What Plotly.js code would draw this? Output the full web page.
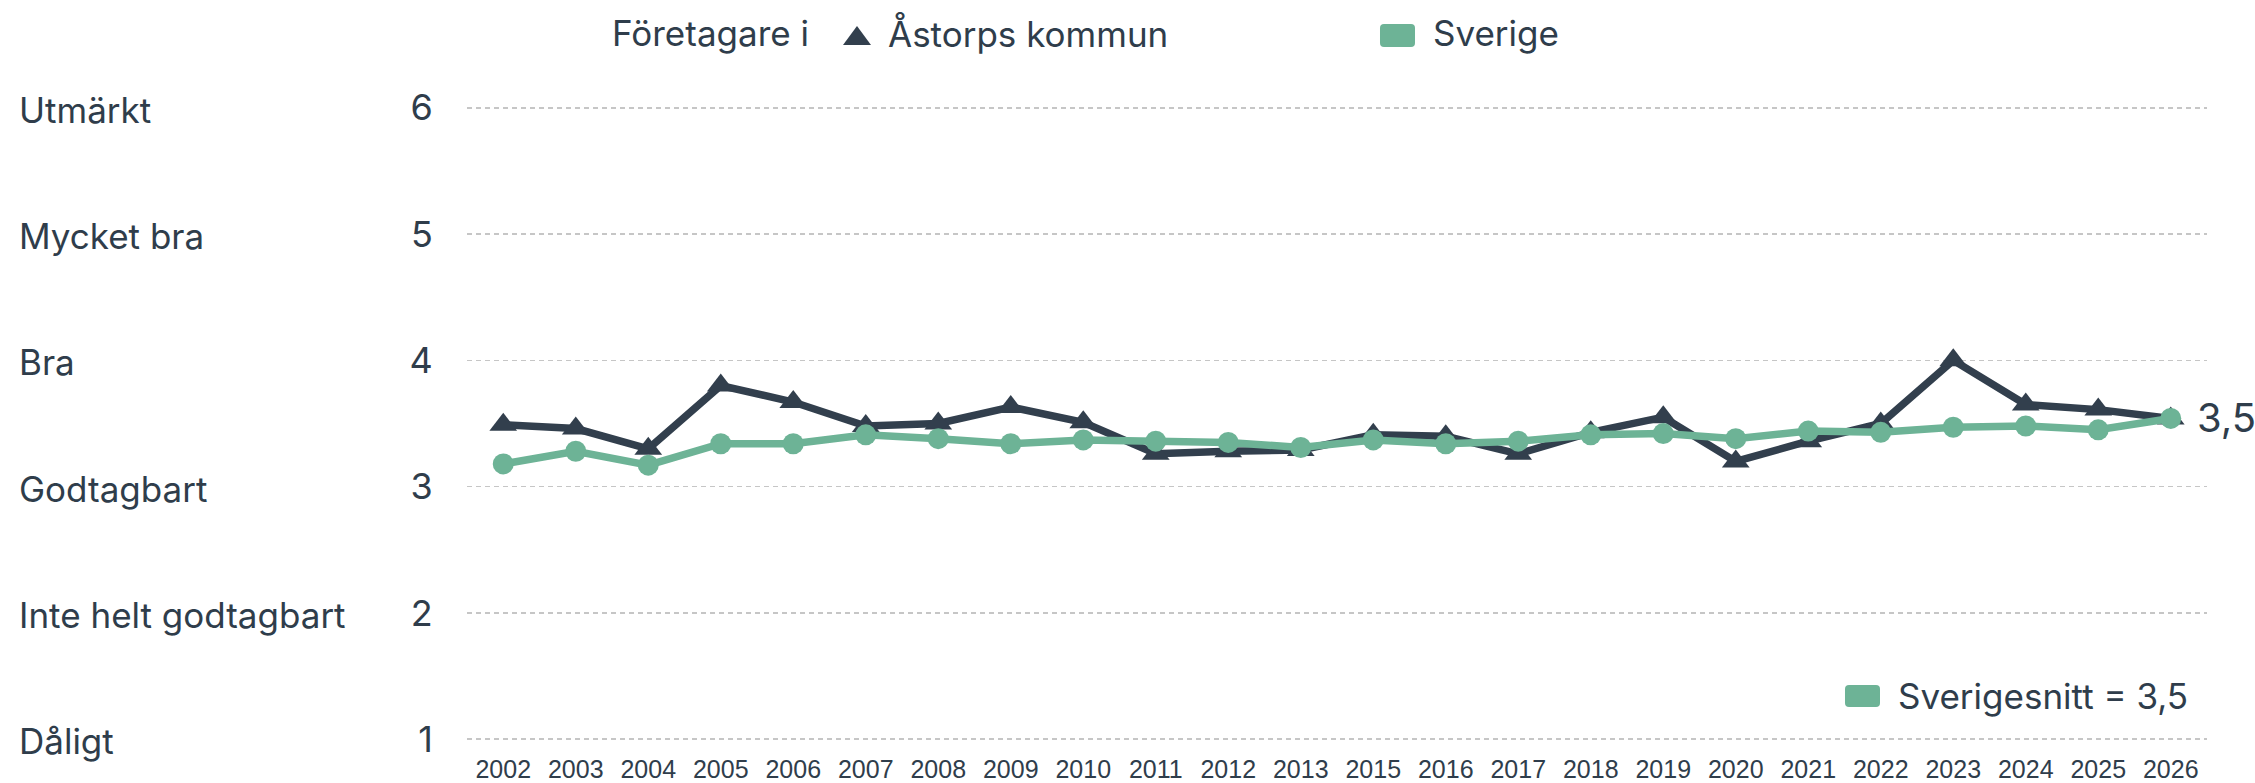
<!DOCTYPE html>
<html>
<head>
<meta charset="utf-8">
<script src="https://cdn.plot.ly/plotly-3.0.1.min.js"></script>
<style>html,body{margin:0;padding:0;background:#fff;}#chart{width:2255px;height:783px;}</style>
</head>
<body>
<div id="chart"></div>
<script>
const years = ["2002","2003","2004","2005","2006","2007","2008","2009","2010","2011","2012","2013","2015","2016","2017","2018","2019","2020","2021","2022","2023","2024","2025","2026"];
const astorp = [3.49,3.46,3.30,3.80,3.67,3.48,3.50,3.63,3.51,3.26,3.28,3.29,3.41,3.40,3.26,3.43,3.55,3.20,3.36,3.50,4.00,3.65,3.61,3.54];
const sverige = [3.18,3.28,3.17,3.34,3.34,3.41,3.38,3.34,3.37,3.36,3.35,3.31,3.37,3.34,3.36,3.41,3.42,3.38,3.44,3.43,3.47,3.48,3.45,3.54];
const gradeValues = [1,2,3,4,5,6];
const gradeLabels = ["Dåligt","Inte helt godtagbart","Godtagbart","Bra","Mycket bra","Utmärkt"];
const legendTitle = "Företagare i";
const seriesNames = ["Åstorps kommun","Sverige"];
const avgLabel = "Sverigesnitt";
const sverigeAvg = 3.5;

const W = 2255, H = 783;
const M = {l:467, r:48, t:104, b:40};
const PW = W - M.l - M.r, PH = H - M.t - M.b;
const DARK = "#323f4d", GREEN = "#6db396", TEXT = "#2f3d4b";
const FONT = "Inter, 'Noto Sans', sans-serif";

const fmt = v => (Math.round(v*10)/10).toFixed(1).replace('.', ',');
const px = x => (x - M.l) / PW;
const py = y => (H - M.b - y) / PH;

function roundRect(x0, y0, x1, y1, r) {
  const P = (x, y) => px(x).toFixed(5) + ',' + py(y).toFixed(5);
  return 'M' + P(x0 + r, y0) + ' L' + P(x1 - r, y0) + ' Q' + P(x1, y0) + ' ' + P(x1, y0 + r) +
    ' L' + P(x1, y1 - r) + ' Q' + P(x1, y1) + ' ' + P(x1 - r, y1) +
    ' L' + P(x0 + r, y1) + ' Q' + P(x0, y1) + ' ' + P(x0, y1 - r) +
    ' L' + P(x0, y0 + r) + ' Q' + P(x0, y0) + ' ' + P(x0 + r, y0) + ' Z';
}
function tri(x0, x1, yb, yt) {
  const xm = (x0 + x1) / 2;
  return 'M' + px(x0) + ',' + py(yb) + ' L' + px(x1) + ',' + py(yb) + ' L' + px(xm) + ',' + py(yt) + ' Z';
}

const last = years.length - 1;

const traces = [
  {x: years, y: astorp, type: 'scatter', mode: 'lines+markers', name: seriesNames[0],
   line: {color: DARK, width: 7.5}, marker: {symbol: 'triangle-up', size: 24, color: DARK}, cliponaxis: false},
  {x: years, y: sverige, type: 'scatter', mode: 'lines+markers', name: seriesNames[1],
   line: {color: GREEN, width: 7.5}, marker: {symbol: 'circle', size: 21, color: GREEN}, cliponaxis: false}
];

const annotations = [];
gradeValues.forEach((v, i) => {
  annotations.push({xref: 'paper', yref: 'y', x: px(17), y: v, xanchor: 'left', yanchor: 'middle',
    text: gradeLabels[i], showarrow: false, yshift: -2, font: {family: FONT, size: 35, color: TEXT}});
});
annotations.push({xref: 'x', yref: 'y', x: last, y: astorp[last], xanchor: 'left', yanchor: 'middle',
  xshift: 24, yshift: 1, text: fmt(astorp[last]), showarrow: false, font: {family: FONT, size: 40, color: TEXT}});
annotations.push({xref: 'paper', yref: 'paper', x: px(610), y: py(33), xanchor: 'left', yanchor: 'middle',
  text: legendTitle, showarrow: false, font: {family: FONT, size: 35, color: TEXT}});
annotations.push({xref: 'paper', yref: 'paper', x: px(886), y: py(33), xanchor: 'left', yanchor: 'middle',
  text: seriesNames[0], showarrow: false, font: {family: FONT, size: 35, color: TEXT}});
annotations.push({xref: 'paper', yref: 'paper', x: px(1431), y: py(33), xanchor: 'left', yanchor: 'middle',
  text: seriesNames[1], showarrow: false, font: {family: FONT, size: 35, color: TEXT}});
annotations.push({xref: 'paper', yref: 'paper', x: px(1896), y: py(696), xanchor: 'left', yanchor: 'middle',
  text: avgLabel + ' = ' + fmt(sverigeAvg), showarrow: false, font: {family: FONT, size: 35, color: TEXT}});

const shapes = [
  {type: 'path', xref: 'paper', yref: 'paper', path: tri(843, 871, 45, 26), fillcolor: DARK, line: {width: 0}},
  {type: 'path', xref: 'paper', yref: 'paper', path: roundRect(1380, 24, 1415, 47, 4), fillcolor: GREEN, line: {width: 0}},
  {type: 'path', xref: 'paper', yref: 'paper', path: roundRect(1845, 685, 1880, 707, 4), fillcolor: GREEN, line: {width: 0}}
];

const layout = {
  width: W, height: H,
  margin: M,
  paper_bgcolor: '#fff', plot_bgcolor: '#fff',
  showlegend: false,
  xaxis: {type: 'category', categoryorder: 'array', categoryarray: years, range: [-0.5, years.length - 0.5],
    showgrid: false, zeroline: false, showline: false,
    ticks: 'outside', ticklen: 4, tickcolor: 'rgba(0,0,0,0)',
    tickfont: {family: "'Liberation Sans', Arial, sans-serif", size: 25, color: TEXT}, tickangle: 0},
  yaxis: {range: [0.97, 6.03], tickvals: gradeValues, ticktext: gradeValues.map(String),
    showgrid: true, gridcolor: '#c6c6c6', gridwidth: 1.5, griddash: '5px,4px',
    zeroline: false, showline: false,
    ticks: 'outside', ticklen: 26, tickcolor: 'rgba(0,0,0,0)',
    tickfont: {family: FONT, size: 36, color: TEXT}},
  annotations: annotations,
  shapes: shapes
};

Plotly.newPlot('chart', traces, layout, {displayModeBar: false, staticPlot: true});
</script>
</body>
</html>
